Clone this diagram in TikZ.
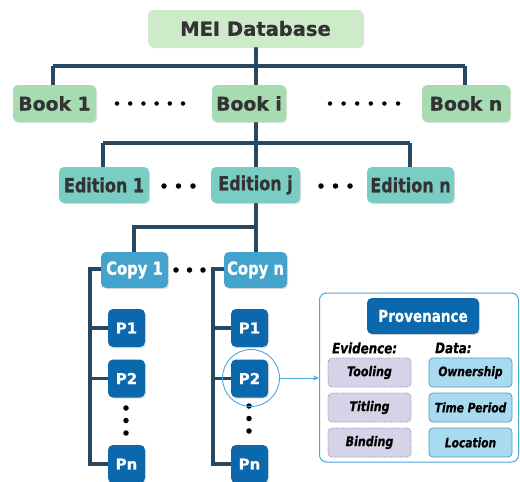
\documentclass[tikz,border=0pt]{standalone}
\usepackage{fontspec}
\setmainfont{DejaVu Sans}[BoldFeatures={FakeBold=0.8},BoldItalicFeatures={FakeBold=0.6}]
\newfontfamily\narrowf{DejaVu Sans}[FakeStretch=0.82,BoldFeatures={FakeBold=0.8,FakeStretch=0.82},BoldItalicFeatures={FakeBold=0.6,FakeStretch=0.82}]
\usetikzlibrary{shadows,arrows.meta}
\pgfdeclarelayer{background}
\pgfsetlayers{background,main}
\definecolor{linec}{HTML}{264863}
\definecolor{meic}{HTML}{CDEBC8}
\definecolor{bookc}{HTML}{A7DCB2}
\definecolor{editc}{HTML}{7ACDC3}
\definecolor{copyc}{HTML}{43A3CD}
\definecolor{pc}{HTML}{0B68AD}
\definecolor{txtc}{HTML}{333333}
\definecolor{evic}{HTML}{D6D3E8}
\definecolor{evid}{HTML}{8F89A8}
\definecolor{datac}{HTML}{A9DBF0}
\definecolor{datad}{HTML}{4F9EC4}
\definecolor{circc}{HTML}{4AA8E0}
\tikzset{
  box/.style={rectangle, rounded corners=5pt, inner sep=0pt, font=\bfseries,
    drop shadow={shadow xshift=1.2pt, shadow yshift=-1.2pt, opacity=0.25, fill=gray}},
  meibox/.style={box, fill=meic, text=txtc, minimum width=215pt, minimum height=37pt, font=\fontsize{19.5}{22}\selectfont\bfseries},
  bookbox/.style={box, fill=bookc, text=txtc, minimum height=37pt, font=\fontsize{18.8}{21}\selectfont\bfseries},
  edbox/.style={box, fill=editc, text=txtc, minimum height=36pt, font=\narrowf\fontsize{19.5}{22}\selectfont\bfseries},
  copybox/.style={box, fill=copyc, text=white, minimum height=36pt, font=\narrowf\fontsize{18}{21}\selectfont\bfseries},
  pbox/.style={box, fill=pc, text=white, minimum width=37pt, minimum height=38pt, font=\fontsize{15}{18}\selectfont\bfseries},
  provbox/.style={box, fill=pc, text=white, minimum width=112pt, minimum height=36pt, font=\narrowf\fontsize{16.5}{19}\selectfont\bfseries},
  evibox/.style={rectangle, rounded corners=4pt, fill=evic, draw=evid, densely dotted, line width=0.8pt,
    minimum width=83pt, minimum height=29pt, font=\narrowf\fontsize{13.5}{16}\selectfont\bfseries\itshape, text=black},
  databox/.style={rectangle, rounded corners=4pt, fill=datac, draw=datad, line width=0.8pt,
    minimum width=83pt, minimum height=29pt, font=\narrowf\fontsize{13}{15}\selectfont\bfseries\itshape, text=black},
  conn/.style={draw=linec, line width=3.2pt},
  dotc/.style={circle, fill=black, inner sep=0pt, minimum size=4.5pt},
  lbl/.style={font=\narrowf\fontsize{14.5}{17}\selectfont\bfseries\itshape, text=black, inner sep=0pt}
}
\begin{document}
\begin{tikzpicture}[x=1pt,y=-1pt]
\useasboundingbox (0,0) rectangle (520,482);
\coordinate (bus1) at (256,66);
\coordinate (bus2) at (256,143);
\coordinate (bus3) at (256,227);
\node[meibox] (mei) at (255.5,28.5) {MEI Database};
\node[bookbox, minimum width=83pt] (b1) at (54.5,103.5) {Book 1};
\node[bookbox, minimum width=74pt] (bi) at (249,103.5) {Book i};
\node[bookbox, minimum width=88pt] (bn) at (466,103.5) {Book n};
\node[edbox, minimum width=90pt] (e1) at (104,185) {Edition 1};
\node[edbox, minimum width=89pt] (ej) at (255.5,185) {Edition j};
\node[edbox, minimum width=87pt] (en) at (410.5,185) {Edition n};
\node[copybox, minimum width=67pt] (c1) at (134.5,270) {Copy 1};
\node[copybox, minimum width=63pt] (cn) at (255.5,270) {Copy n};
\node[pbox] (p11) at (126.5,328) {P1};
\node[pbox] (p12) at (126.5,378.5) {P2};
\node[pbox] (p1n) at (126.5,464) {Pn};
\node[pbox] (pn1) at (249.5,328) {P1};
\node[pbox] (pn2) at (249.5,378.5) {P2};
\node[pbox] (pnn) at (249.5,464) {Pn};
\begin{pgfonlayer}{background}
\draw[conn] (mei.south -| bus1) -- (bus1);
\draw[conn] (53,66) coordinate (l1) -- (465,66) coordinate (r1);
\draw[conn] (l1) -- (l1 |- b1.north);
\draw[conn] (r1) -- (r1 |- bn.north);
\draw[conn] (bus1) -- (bus1 |- bi.north);
\draw[conn] (bi.south -| bus2) -- (bus2);
\draw[conn] (103,143) coordinate (l2) -- (410,143) coordinate (r2);
\draw[conn] (l2) -- (l2 |- e1.north);
\draw[conn] (r2) -- (r2 |- en.north);
\draw[conn] (bus2) -- (bus2 |- ej.north);
\draw[conn] (ej.south -| bus3) -- (bus3 |- cn.north);
\draw[conn] (bus3) -- (134,227) coordinate (l3) -- (l3 |- c1.north);
\coordinate (s1) at (90,269);
\draw[conn] (c1.west |- s1) -- (s1) -- (s1 |- p1n) -- (p1n.west);
\draw[conn] (s1 |- p11) -- (p11.west);
\draw[conn] (s1 |- p12) -- (p12.west);
\coordinate (s2) at (213,269);
\draw[conn] (cn.west |- s2) -- (s2) -- (s2 |- pnn) -- (pnn.west);
\draw[conn] (s2 |- pn1) -- (pn1.west);
\draw[conn] (s2 |- pn2) -- (pn2.west);
\end{pgfonlayer}
% dots
\foreach \x in {117,130.2,143.4,156.6,169.8,183} \node[dotc] at (\x,103.5) {};
\foreach \x in {330,343.6,357.2,370.8,384.4,398} \node[dotc] at (\x,103.5) {};
\foreach \x in {164,178.5,193} \node[dotc, minimum size=5.5pt] at (\x,186) {};
\foreach \x in {321,335.5,350} \node[dotc, minimum size=5.5pt] at (\x,186) {};
\foreach \x in {176,189.5,203} \node[dotc, minimum size=5.5pt] at (\x,270) {};
\foreach \y in {408,420.5,433} \node[dotc, minimum size=5.5pt] at (126,\y) {};
\foreach \y in {406,418.5,431} \node[dotc, minimum size=5.5pt] at (249,\y) {};
% highlight
\node[circle, draw=circc, line width=0.9pt, minimum size=57pt, inner sep=0pt] (hl) at (251,378) {};
% provenance panel
\node[rectangle, rounded corners=7pt, draw=circc, line width=1pt, fill=white,
  minimum width=199pt, minimum height=169pt, inner sep=0pt] (panel) at (419,377.5) {};
\draw[-{Stealth[length=6pt,width=5pt]}, draw=circc, line width=0.9pt] (hl.east) -- (panel.west |- hl.east);
\node[provbox] (prov) at (423,316) {Provenance};
\node[lbl, anchor=west] (evl) at (332,348) {Evidence:};
\node[lbl, anchor=west] (dal) at (435,348) {Data:};
\node[evibox] (t1) at (369.5,372.5) {Tooling};
\node[evibox] (t2) at (369.5,407.5) {Titling};
\node[evibox] (t3) at (369.5,442.5) {Binding};
\node[databox] (d1) at (470.5,372.5) {Ownership};
\node[databox] (d2) at (470.5,407.5) {Time Period};
\node[databox] (d3) at (470.5,442.5) {Location};
\end{tikzpicture}
\end{document}
